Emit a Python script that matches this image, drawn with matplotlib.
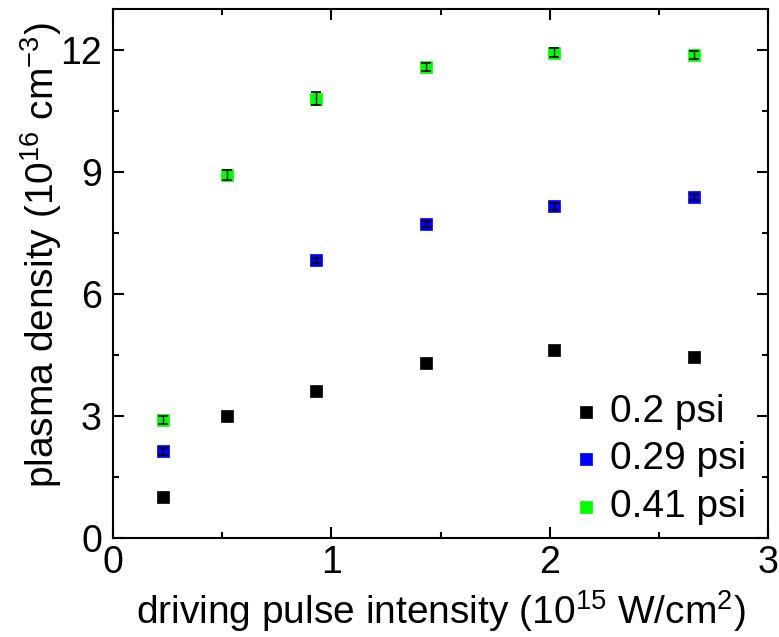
import matplotlib
matplotlib.use("Agg")
import matplotlib.pyplot as plt
from matplotlib.ticker import MultipleLocator

plt.rcParams['font.family'] = ['Liberation Sans', 'DejaVu Sans']
plt.rcParams['mathtext.fontset'] = 'custom'
plt.rcParams['mathtext.rm'] = 'Liberation Sans'
plt.rcParams['mathtext.it'] = 'Liberation Sans:italic'
plt.rcParams['mathtext.bf'] = 'Liberation Sans:bold'

# Data
x_02 = [0.23, 0.52, 0.93, 1.434, 2.02, 2.66]
y_02 = [1.01, 3.01, 3.61, 4.29, 4.61, 4.45]
e_02 = [0.04, 0.04, 0.04, 0.05, 0.05, 0.05]

x_029 = [0.23, 0.93, 1.434, 2.02, 2.66]
y_029 = [2.13, 6.82, 7.71, 8.15, 8.38]
e_029 = [0.08, 0.07, 0.07, 0.08, 0.08]

x_041 = [0.23, 0.52, 0.93, 1.434, 2.02, 2.66]
y_041 = [2.90, 8.92, 10.80, 11.57, 11.93, 11.87]
e_041 = [0.11, 0.12, 0.16, 0.10, 0.10, 0.09]

labels = ['0.2 psi', '0.29 psi', '0.41 psi']
colors = ['#000000', '#0000ff', '#00ff00']

fig = plt.figure(figsize=(7.79, 6.37), dpi=100)
ax = fig.add_axes([113/779, 1 - 538/637, (768-113)/779, (538-9)/637])

series = [(x_02, y_02, e_02), (x_029, y_029, e_029), (x_041, y_041, e_041)]
handles = []
for (xs, ys, es), lab, c in zip(series, labels, colors):
    h = ax.scatter(xs, ys, marker='s', s=64, color=c, edgecolors=c, linewidths=0.5,
                   label=lab, zorder=3)
    ax.errorbar(xs, ys, yerr=es, fmt='none', ecolor='black', elinewidth=1.0,
                capsize=3.5, capthick=1.2, zorder=4)
    handles.append(h)

ax.set_xlim(0, 3)
ax.set_ylim(0, 13)
ax.xaxis.set_major_locator(MultipleLocator(1))
ax.xaxis.set_minor_locator(MultipleLocator(0.5))
ax.yaxis.set_major_locator(MultipleLocator(3))
ax.yaxis.set_minor_locator(MultipleLocator(1.5))

for s in ax.spines.values():
    s.set_linewidth(1.5)

ax.tick_params(which='both', direction='in', top=True, right=True, width=1.5,
               labelsize=27)
ax.tick_params(axis='y', pad=8)
ax.tick_params(axis='x', pad=5)
ax.tick_params(which='major', length=8)
ax.tick_params(which='minor', length=4.5)

ax.set_xlabel(r'driving pulse intensity (10$\mathregular{^{15}}$ W/cm$\mathregular{^{2}}$)',
              fontsize=28, labelpad=5)
ax.set_ylabel(r'plasma density (10$\mathregular{^{16}}$ cm$\mathregular{^{-3}}$)',
              fontsize=28)
ax.yaxis.set_label_coords(-0.075, 0.535)

ax.legend(handles=handles, loc='lower right', frameon=False, fontsize=28,
          handletextpad=0.1, labelspacing=0.3, borderaxespad=0.1,
          handlelength=1.0, markerscale=1.0, borderpad=0.3,
          bbox_to_anchor=(0.99, -0.005))

fig.savefig('out.png', dpi=100)
